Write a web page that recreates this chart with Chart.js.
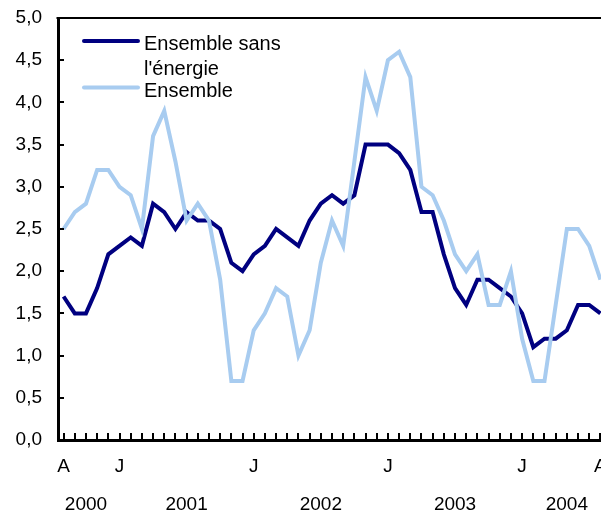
<!DOCTYPE html>
<html><head><meta charset="utf-8">
<script src="https://cdn.jsdelivr.net/npm/chart.js@4.4.1/dist/chart.umd.min.js"></script>
<style>
html,body{margin:0;padding:0;overflow:hidden;background:#fff;width:601px;height:514px}
#wrap{position:absolute;left:0;top:0;width:606px;height:514px}
</style></head><body>
<div id="wrap"><canvas id="c" width="606" height="514"></canvas></div>
<script>
// Categories: monthly, August 2000 to August 2004
const categories = [
 '2000-08','2000-09','2000-10','2000-11','2000-12',
 '2001-01','2001-02','2001-03','2001-04','2001-05','2001-06','2001-07','2001-08','2001-09','2001-10','2001-11','2001-12',
 '2002-01','2002-02','2002-03','2002-04','2002-05','2002-06','2002-07','2002-08','2002-09','2002-10','2002-11','2002-12',
 '2003-01','2003-02','2003-03','2003-04','2003-05','2003-06','2003-07','2003-08','2003-09','2003-10','2003-11','2003-12',
 '2004-01','2004-02','2004-03','2004-04','2004-05','2004-06','2004-07','2004-08'
];
// Month letter tick labels (A = août, J = janvier)
const monthTicks = ['A','','','','','J','','','','','','','','','','','',
 'J','','','','','','','','','','','','J','','','','','','','','','','','',
 'J','','','','','','','A'];
// Year tick labels
const yearTicks = ['','','2000','','','','','','','','','2001','','','','','',
 '','','','','','','2002','','','','','','','','','','','','2003','','','','','',
 '','','','','2004','','',''];
// Y tick labels
const yTickLabels = ['0,0','0,5','1,0','1,5','2,0','2,5','3,0','3,5','4,0','4,5','5,0'];
// Series
const coreLabel = "Ensemble sans l'énergie";
const coreValues = [1.7,1.5,1.5,1.8,2.2,2.3,2.4,2.3,2.8,2.7,2.5,2.7,2.6,2.6,2.5,2.1,2.0,2.2,2.3,2.5,2.4,2.3,2.6,2.8,2.9,2.8,2.9,3.5,3.5,3.5,3.4,3.2,2.7,2.7,2.2,1.8,1.6,1.9,1.9,1.8,1.7,1.5,1.1,1.2,1.2,1.3,1.6,1.6,1.5];
const totalLabel = 'Ensemble';
const totalValues = [2.5,2.7,2.8,3.2,3.2,3.0,2.9,2.5,3.6,3.9,3.3,2.6,2.8,2.6,1.9,0.7,0.7,1.3,1.5,1.8,1.7,1.0,1.3,2.1,2.6,2.3,3.3,4.3,3.9,4.5,4.6,4.3,3.0,2.9,2.6,2.2,2.0,2.2,1.6,1.6,2.0,1.2,0.7,0.7,1.6,2.5,2.5,2.3,1.9];

const FONT = '"Liberation Sans", Arial, Helvetica, sans-serif';

const framePlugin = {
  id: 'frame',
  afterDraw(chart) {
    const ctx = chart.ctx, a = chart.chartArea;
    const xs = chart.scales.x, ys = chart.scales.y;
    ctx.save();
    ctx.strokeStyle = '#000';
    ctx.lineWidth = 2;
    ctx.beginPath();
    ctx.moveTo(a.left - 1.5, a.top);
    ctx.lineTo(a.right + 2, a.top);
    ctx.stroke();
    // inward tick marks
    ctx.beginPath();
    for (let i = 0; i < categories.length; i++) {
      const x = Math.round(xs.getPixelForValue(i));
      ctx.moveTo(x, a.bottom);
      ctx.lineTo(x, a.bottom - 7);
    }
    ys.ticks.forEach(t => {
      const y = Math.round(ys.getPixelForValue(t.value));
      ctx.moveTo(a.left, y);
      ctx.lineTo(a.left + 6, y);
    });
    ctx.stroke();
    ctx.restore();
  }
};

const legendPlugin = {
  id: 'customLegend',
  afterDraw(chart) {
    const ctx = chart.ctx;
    ctx.save();
    ctx.font = '20px ' + FONT;
    ctx.fillStyle = '#000';
    ctx.textAlign = 'left';
    ctx.textBaseline = 'alphabetic';
    const entries = [
      {ds: chart.data.datasets[0], lineY: 41, lines: ['Ensemble sans', "l'énergie"], baselines: [50, 74.5]},
      {ds: chart.data.datasets[1], lineY: 87.5, lines: ['Ensemble'], baselines: [96.5]}
    ];
    entries.forEach(e => {
      ctx.strokeStyle = e.ds.borderColor;
      ctx.lineWidth = 4;
      ctx.lineCap = 'round';
      ctx.beginPath();
      ctx.moveTo(84, e.lineY);
      ctx.lineTo(138, e.lineY);
      ctx.stroke();
      e.lines.forEach((t, k) => ctx.fillText(t, 144, e.baselines[k]));
    });
    ctx.restore();
  }
};

new Chart(document.getElementById('c'), {
  type: 'line',
  data: {
    labels: categories,
    datasets: [
      {label: coreLabel, data: coreValues, borderColor: '#000080', backgroundColor: '#000080', borderWidth: 4, pointRadius: 0, tension: 0, order: 2},
      {label: totalLabel, data: totalValues, borderColor: '#A8CCF0', backgroundColor: '#A8CCF0', borderWidth: 4, pointRadius: 0, tension: 0, order: 1}
    ]
  },
  options: {
    responsive: false,
    animation: false,
    devicePixelRatio: 1,
    layout: {padding: {top: 18, right: 0, left: 0, bottom: 0}},
    plugins: {legend: {display: false}, tooltip: {enabled: false}},
    scales: {
      x: {
        type: 'category', offset: true,
        grid: {display: false, drawTicks: false},
        border: {display: true, color: '#000', width: 3},
        ticks: {
          autoSkip: false, maxRotation: 0, minRotation: 0, padding: 8, color: '#000',
          font: {family: FONT, size: 19, lineHeight: 2},
          callback: (v, i) => [monthTicks[i], yearTicks[i]]
        },
        afterFit: s => { s.height = 74; s.paddingLeft = 0; s.paddingRight = 0; }
      },
      y: {
        min: 0, max: 5,
        grid: {display: false, drawTicks: false},
        border: {display: true, color: '#000', width: 3},
        ticks: {
          stepSize: 0.5, padding: 16, color: '#000',
          font: {family: FONT, size: 19},
          callback: (v) => yTickLabels[Math.round(v * 2)]
        },
        afterFit: s => { s.width = 58; s.paddingTop = 0; s.paddingBottom = 0; }
      }
    }
  },
  plugins: [framePlugin, legendPlugin]
});
</script>
</body></html>
